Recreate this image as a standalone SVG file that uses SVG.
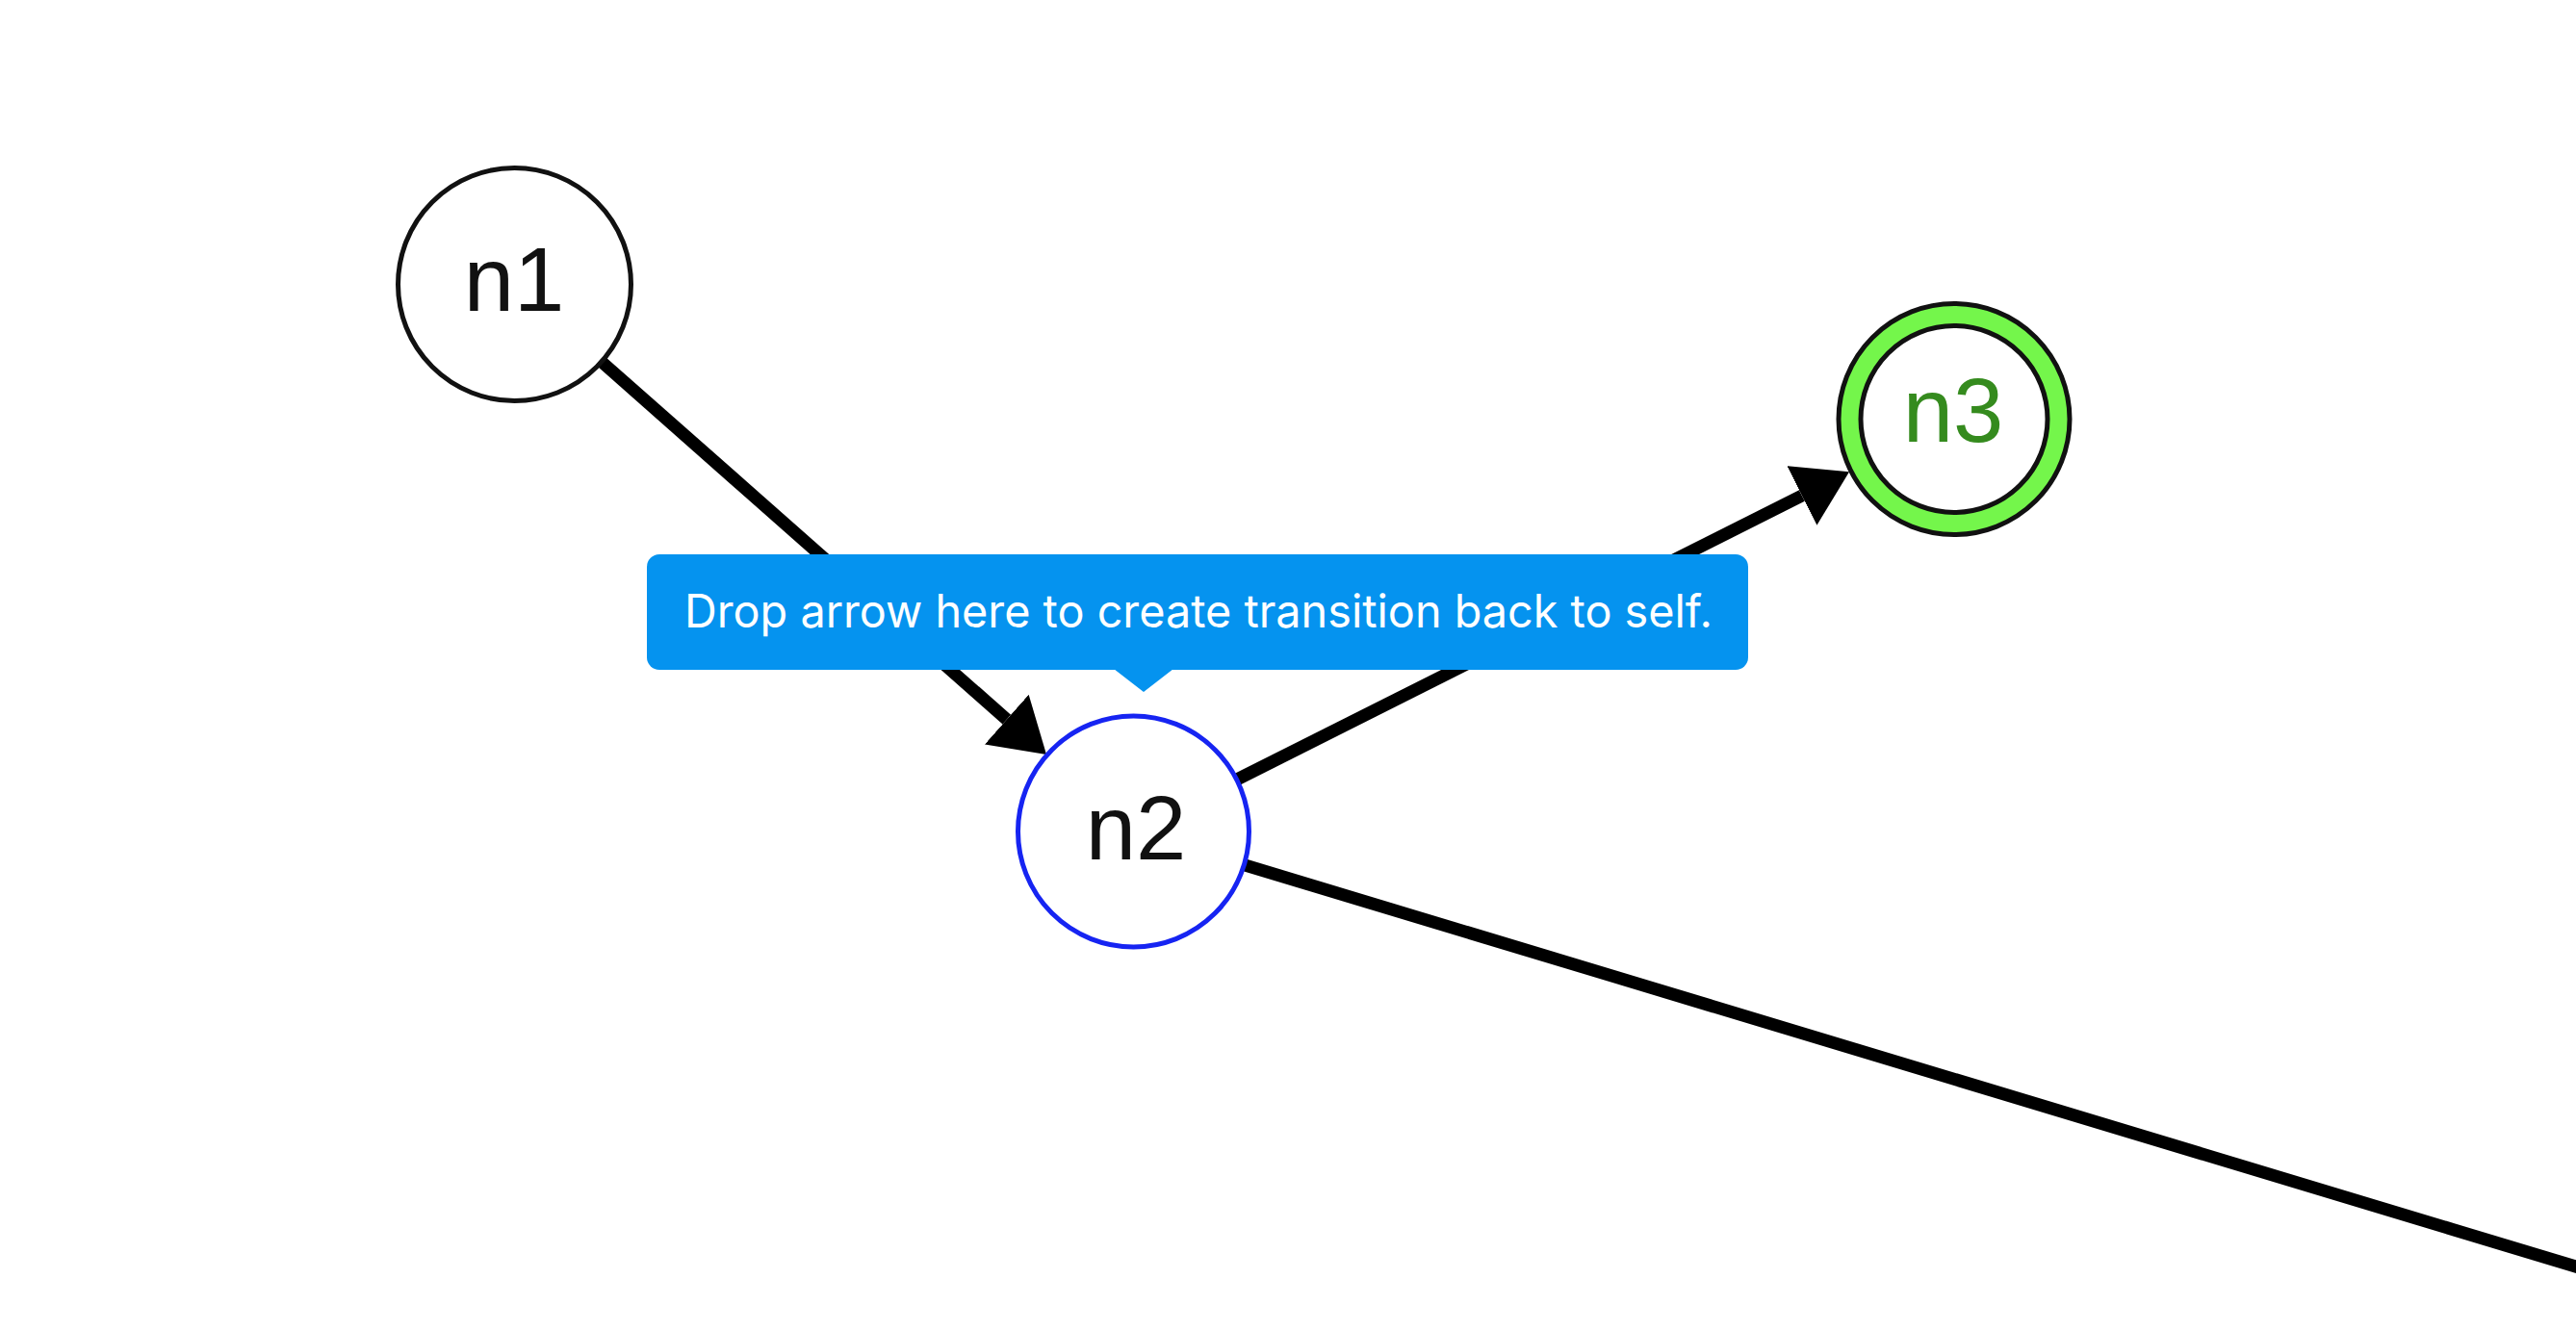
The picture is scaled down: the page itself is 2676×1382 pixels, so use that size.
<svg xmlns="http://www.w3.org/2000/svg" width="2676" height="1382" viewBox="0 0 2676 1382">
  <style>
    .edge { stroke: #000; stroke-width: 13; fill: none; }
    .node { fill: #fff; stroke: #111; stroke-width: 5; }
    .label { font-family: "Liberation Sans", Arial, sans-serif; font-size: 94px; text-anchor: middle; fill: #111; }
    .tip-text { font-family: Inter, "Noto Sans", sans-serif; font-size: 48px; fill: #fff; text-anchor: middle; }
  </style>
  <defs>
    <marker id="arrow" markerUnits="userSpaceOnUse" markerWidth="56" markerHeight="70" refX="0" refY="34.5" orient="auto" viewBox="0 0 56 70">
      <path d="M0,0 L55,34.5 L0,69 z" fill="#000"/>
    </marker>
  </defs>
  <rect width="2676" height="1382" fill="#fff"/>
  <g id="connectors">
    <line class="edge" x1="625" y1="376" x2="1045.8" y2="747.6" marker-end="url(#arrow)"/>
    <line class="edge" x1="1285.6" y1="809.6" x2="1871.9" y2="515" marker-end="url(#arrow)"/>
    <line class="edge" x1="1293.3" y1="899" x2="2760" y2="1341.5"/>
  </g>
  <g id="n1">
    <circle class="node" cx="534.5" cy="295.5" r="121"/>
    <text class="label" x="534" y="323">n1</text>
  </g>
  <g id="n2">
    <circle class="node" cx="1177.5" cy="864" r="120" style="stroke:#1624f2"/>
    <text class="label" x="1180" y="893">n2</text>
  </g>
  <g id="n3">
    <circle cx="2030" cy="435.5" r="120" fill="#74f64b" stroke="#111" stroke-width="5"/>
    <circle cx="2030" cy="435.5" r="97" fill="#fff" stroke="#111" stroke-width="5"/>
    <text class="label" x="2029" y="459" style="fill:#358b1e">n3</text>
  </g>
  <g id="tooltip">
    <rect x="672" y="576" width="1144" height="120" rx="13" fill="#0593ef"/>
    <polygon points="1157,695 1219,695 1188,719" fill="#0593ef"/>
    <text class="tip-text" x="1245" y="652" textLength="1068" lengthAdjust="spacingAndGlyphs">Drop arrow here to create transition back to self.</text>
  </g>
</svg>
